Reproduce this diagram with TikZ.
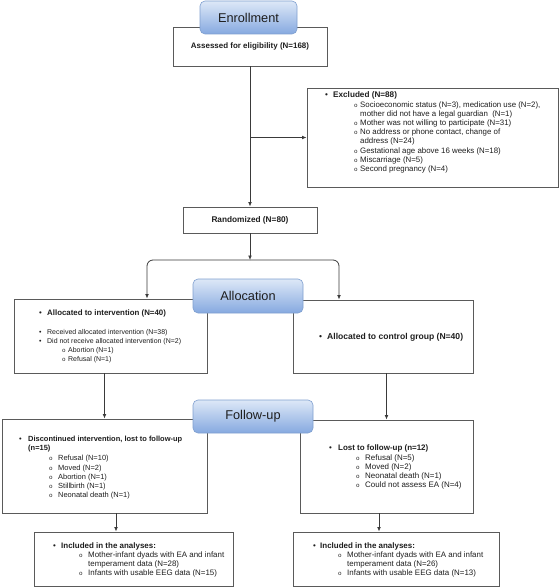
\documentclass[tikz,border=0pt]{standalone}
\usepackage{fontspec}
\setmainfont{Liberation Sans}
\newfontfamily\monof{Liberation Mono}
\usetikzlibrary{arrows.meta}
\definecolor{txtc}{HTML}{1E1E1E}
\definecolor{boxc}{HTML}{5A5A5A}
\definecolor{conc}{HTML}{3A3A3A}
\definecolor{hdtop}{HTML}{DDE8F7}
\definecolor{hdbot}{HTML}{86A9E0}
\definecolor{hdline}{HTML}{7F9FCF}
\newcommand\subb{{\monof\fontsize{6}{6}\selectfont o}}
\newcommand\Bl[6]{\node[ln,font=\fontsize{#5}{#5}\selectfont] (#1) at (#2,#4) {\makebox[#3bp][l]{\textbullet}#6};}
\newcommand\Sb[6]{\node[ln,font=\fontsize{#5}{#5}\selectfont] (#1) at (#2,#4) {\makebox[#3bp][l]{\subb}#6};}
\newcommand\Tx[5]{\node[ln,font=\fontsize{#4}{#4}\selectfont] (#1) at (#2,#3) {#5};}
\begin{document}
\begin{tikzpicture}[x=1bp,y=-1bp,
  box/.style={draw=boxc,line width=0.9bp,fill=white,inner sep=0,text=txtc},
  hdr/.style={draw=hdline,line width=0.6bp,rounded corners=5bp,top color=hdtop,bottom color=hdbot,inner sep=0,text=txtc,font=\fontsize{12.8}{12.8}\selectfont},
  ln/.style={anchor=base west,inner sep=0,text=txtc},
  con/.style={draw=conc,line width=0.8bp,-{Latex[length=4.5bp,width=3.8bp]}}]
\useasboundingbox (0,0) rectangle (560,587);
% boxes
\node[box,minimum width=154bp,minimum height=39bp,font=\bfseries\fontsize{8}{8}\selectfont] (assess) at (250,46.5) {Assessed for eligibility (N=168)};
\node[box,minimum width=251bp,minimum height=99bp] (excl) at (432.5,137.5) {};
\node[box,minimum width=134bp,minimum height=26bp,font=\bfseries\fontsize{8.3}{8.3}\selectfont] (rand) at (250,220) {Randomized (N=80)};
\node[box,minimum width=193bp,minimum height=74bp] (aL) at (110.5,336) {};
\node[box,minimum width=180bp,minimum height=73bp] (aR) at (383,336.5) {};
\node[box,minimum width=205bp,minimum height=94bp] (fL) at (104.5,466) {};
\node[box,minimum width=173bp,minimum height=93bp] (fR) at (386.5,466.5) {};
\node[box,minimum width=199bp,minimum height=54bp] (iL) at (133.5,559) {};
\node[box,minimum width=206bp,minimum height=54bp] (iR) at (396,559) {};
% coordinates
\coordinate (sp) at (250,260);
\coordinate (lx) at (147,0);
\coordinate (rx) at (339,0);
\coordinate (bx1) at (116,0);
\coordinate (bx2) at (379,0);
% connectors
\draw[con] (assess.south) -- (rand.north);
\draw[con] (assess.south |- excl.west) -- (excl.west);
\draw[con] (rand.south) -- (sp);
\draw[con,rounded corners=6bp] (sp) -| (lx |- aL.north);
\draw[con,rounded corners=6bp] (sp) -| (rx |- aR.north);
\draw[con] (aL.south -| fL.north) -- (fL.north);
\draw[con] (aR.south -| fR.north) -- (fR.north);
\draw[con] (bx1 |- fL.south) -- (bx1 |- iL.north);
\draw[con] (bx2 |- fR.south) -- (bx2 |- iR.north);
% headers
\node[hdr,minimum width=97bp,minimum height=33bp] (enr) at (248.5,17.5) {Enrollment};
\node[hdr,minimum width=110bp,minimum height=34bp] (alloc) at (248,296) {Allocation};
\node[hdr,minimum width=120bp,minimum height=33bp] (fol) at (253,416.5) {Follow-up};
% excluded
\Bl{e0}{325}{8}{98}{8.2}{\textbf{Excluded (N=88)}}
\Sb{e1}{354}{6}{108}{7.9}{Socioeconomic status (N=3), medication use (N=2),}
\Tx{e2}{360}{117}{7.9}{mother did not have a legal guardian\ \ (N=1)}
\Sb{e3}{354}{6}{126}{7.9}{Mother was not willing to participate (N=31)}
\Sb{e4}{354}{6}{135}{7.9}{No address or phone contact, change of}
\Tx{e5}{360}{144}{7.9}{address (N=24)}
\Sb{e6}{354}{6}{153.5}{7.9}{Gestational age above 16 weeks (N=18)}
\Sb{e7}{354}{6}{163}{7.9}{Miscarriage (N=5)}
\Sb{e8}{354}{6}{172}{7.9}{Second pregnancy (N=4)}
% allocation left
\Bl{a0}{39}{8}{315}{7.9}{\textbf{Allocated to intervention (N=40)}}
\Bl{a1}{39}{8}{334.3}{7}{Received allocated intervention (N=38)}
\Bl{a2}{39}{8}{343.3}{7}{Did not receive allocated intervention (N=2)}
\Sb{a3}{62}{6}{352.5}{7}{Abortion (N=1)}
\Sb{a4}{62}{6}{361.8}{7}{Refusal (N=1)}
% allocation right
\Bl{b0}{319}{8}{339.8}{8.6}{\textbf{Allocated to control group (N=40)}}
% follow-up left
\Bl{c0}{19}{9}{441.7}{7.5}{\textbf{Discontinued intervention, lost to follow-up}}
\Tx{c1}{28}{450.4}{7.5}{\textbf{(n=15)}}
\Sb{c2}{49}{9}{460.4}{7.5}{Refusal (N=10)}
\Sb{c3}{49}{9}{470}{7.5}{Moved (N=2)}
\Sb{c4}{49}{9}{479}{7.5}{Abortion (N=1)}
\Sb{c5}{49}{9}{488}{7.5}{Stillbirth (N=1)}
\Sb{c6}{49}{9}{497}{7.5}{Neonatal death (N=1)}
% follow-up right
\Bl{d0}{329}{9}{450.6}{8}{\textbf{Lost to follow-up (n=12)}}
\Sb{d1}{356}{9}{460.6}{8}{Refusal (N=5)}
\Sb{d2}{356}{9}{469.6}{8}{Moved (N=2)}
\Sb{d3}{356}{9}{478.6}{8}{Neonatal death (N=1)}
\Sb{d4}{356}{9}{487.9}{8}{Could not assess EA (N=4)}
% included left
\Bl{g0}{53}{8}{548}{8}{\textbf{Included in the analyses:}}
\Sb{g1}{79}{9}{557}{7.95}{Mother-infant dyads with EA and infant}
\Tx{g2}{88}{566.3}{7.95}{temperament data (N=28)}
\Sb{g3}{79}{9}{575.7}{7.95}{Infants with usable EEG data (N=15)}
% included right
\Bl{h0}{313}{7}{548}{8}{\textbf{Included in the analyses:}}
\Sb{h1}{338}{9}{557}{7.95}{Mother-infant dyads with EA and infant}
\Tx{h2}{347}{566.3}{7.95}{temperament data (N=26)}
\Sb{h3}{338}{9}{575.7}{7.95}{Infants with usable EEG data (N=13)}
\end{tikzpicture}
\end{document}
